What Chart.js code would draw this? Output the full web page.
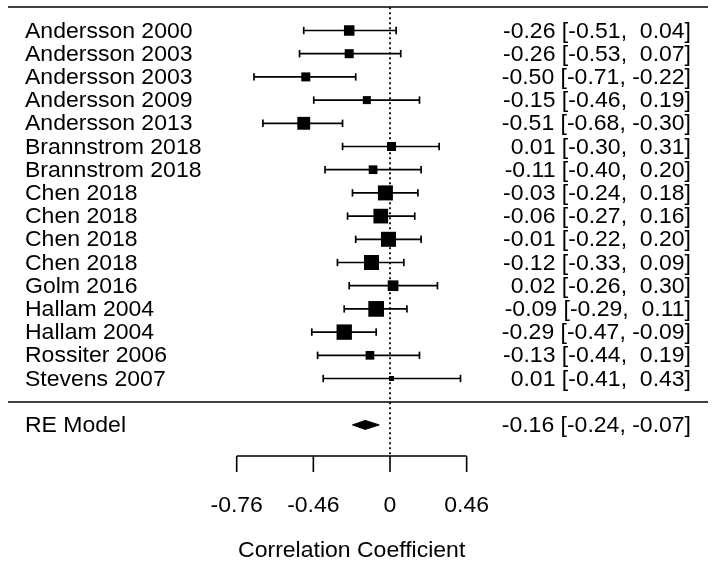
<!DOCTYPE html>
<html>
<head>
<meta charset="utf-8">
<script src="https://cdn.jsdelivr.net/npm/chart.js@4/dist/chart.umd.min.js"></script>
<style>
  html, body { margin: 0; padding: 0; background: #fff; }
  #Chart { display: block; }
</style>
</head>
<body>
<canvas id="Chart" width="714" height="561"></canvas>
<script>
'use strict';
// ********************* DATA ********************

const studies = ['Andersson 2000', 'Andersson 2003', 'Andersson 2003', 'Andersson 2009', 'Andersson 2013',
  'Brannstrom 2018', 'Brannstrom 2018', 'Chen 2018', 'Chen 2018', 'Chen 2018', 'Chen 2018',
  'Golm 2016', 'Hallam 2004', 'Hallam 2004', 'Rossiter 2006', 'Stevens 2007'];
const estimates = [-0.26, -0.26, -0.50, -0.15, -0.51, 0.01, -0.11, -0.03, -0.06, -0.01, -0.12, 0.02, -0.09, -0.29, -0.13, 0.01];
const ciLower = [-0.51, -0.53, -0.71, -0.46, -0.68, -0.30, -0.40, -0.24, -0.27, -0.22, -0.33, -0.26, -0.29, -0.47, -0.44, -0.41];
const ciUpper = [0.04, 0.07, -0.22, 0.19, -0.30, 0.31, 0.20, 0.18, 0.16, 0.20, 0.09, 0.30, 0.11, -0.09, 0.19, 0.43];
// relative study weights (square size)
const weights = [6.2, 5.3, 5.3, 4.7, 7.6, 5.3, 5.1, 8.9, 8.7, 8.9, 8.9, 6.3, 9.3, 9.1, 5.1, 2.9];

const modelLabel = 'RE Model';
const modelEstimate = -0.16;
const modelLower = -0.24;
const modelUpper = -0.07;

// axis ticks sit on the Fisher z scale, labels are back-transformed correlations
const tickPositions = [-1, -0.5, 0, 0.5];
const tickLabels = ['-0.76', '-0.46', '0', '0.46'];
const axisTitle = 'Correlation Coefficient';

// ********************* HELPERS ****************

let canvasElem = document.getElementById('Chart');
const z = r => Math.atanh(r);
const fmt = v => v.toFixed(2);
const pad = v => (v >= 0 ? ' ' : '') + fmt(v);

const FONT = '21.5px "Liberation Sans", Arial, sans-serif';
const STRETCH = 1.07;
const modelRow = studies.length + 2;
const axisRow = 19.34;

function drawText(ctx, text, x, y, align) {
  ctx.save();
  ctx.translate(x, y);
  ctx.scale(STRETCH, 1);
  ctx.textAlign = align;
  ctx.textBaseline = 'alphabetic';
  ctx.fillText(text, 0, 0);
  ctx.restore();
}

// ********************* PLUGIN FOR TEXT AND AXIS ****************

const forestText = {
  id: 'forestText',
  afterDatasetsDraw(chart) {
    const ctx = chart.ctx;
    const xs = chart.scales.x;
    const ys = chart.scales.y;
    ctx.save();
    ctx.fillStyle = '#000';
    ctx.strokeStyle = '#000';
    ctx.font = FONT;

    // top rule and separator
    ctx.lineWidth = 1.6;
    [0, studies.length + 1].forEach(row => {
      const py = Math.round(ys.getPixelForValue(row));
      ctx.beginPath();
      ctx.moveTo(8, py);
      ctx.lineTo(708, py);
      ctx.stroke();
    });

    // study labels and values
    studies.forEach((name, i) => {
      const py = ys.getPixelForValue(i + 1) + 7;
      drawText(ctx, name, 25, py, 'left');
      drawText(ctx, fmt(estimates[i]) + ' [' + fmt(ciLower[i]) + ', ' + pad(ciUpper[i]) + ']', 691, py, 'right');
    });
    const my = ys.getPixelForValue(modelRow) + 7;
    drawText(ctx, modelLabel, 25, my, 'left');
    drawText(ctx, fmt(modelEstimate) + ' [' + fmt(modelLower) + ', ' + pad(modelUpper) + ']', 691, my, 'right');

    // x axis
    const ay = Math.round(ys.getPixelForValue(axisRow));
    const x0 = xs.getPixelForValue(tickPositions[0]);
    const x1 = xs.getPixelForValue(tickPositions[tickPositions.length - 1]);
    ctx.lineWidth = 1.6;
    ctx.beginPath();
    ctx.moveTo(x0, ay);
    ctx.lineTo(x1, ay);
    tickPositions.forEach(t => {
      const px = xs.getPixelForValue(t);
      ctx.moveTo(px, ay);
      ctx.lineTo(px, ay + 16);
    });
    ctx.stroke();
    tickPositions.forEach((t, i) => {
      drawText(ctx, tickLabels[i], xs.getPixelForValue(t), ay + 56, 'center');
    });
    drawText(ctx, axisTitle, (x0 + x1) / 2, ay + 101, 'center');
    ctx.restore();
  }
};

// ********************* THIS FUNCTION RENDERS THE CHART ***********************

function renderChart() {
  const wMin = Math.min(...weights);
  const wMax = Math.max(...weights);
  const squareRadius = weights.map(w => (5 + (w - wMin) / (wMax - wMin) * 10.7) / Math.SQRT2);

  const datasets = [];

  // confidence intervals with end caps
  studies.forEach((name, i) => {
    datasets.push({
      type: 'line',
      data: [{ x: z(ciLower[i]), y: i + 1 }, { x: z(ciUpper[i]), y: i + 1 }],
      borderColor: '#000',
      borderWidth: 1.7,
      pointStyle: 'line',
      rotation: 90,
      pointRadius: 3.7,
      pointBorderWidth: 1.7,
      pointBorderColor: '#000',
      fill: false,
    });
  });

  // study squares
  datasets.push({
    type: 'scatter',
    data: estimates.map((e, i) => ({ x: z(e), y: i + 1 })),
    pointStyle: 'rect',
    pointRadius: squareRadius,
    backgroundColor: '#000',
    borderWidth: 0,
  });

  // summary diamond
  const h = 0.194;
  datasets.push({
    type: 'line',
    data: [
      { x: z(modelLower), y: modelRow },
      { x: z(modelEstimate), y: modelRow - h },
      { x: z(modelUpper), y: modelRow },
      { x: z(modelEstimate), y: modelRow + h },
      { x: z(modelLower), y: modelRow },
    ],
    borderColor: '#000',
    borderWidth: 1,
    backgroundColor: '#000',
    pointRadius: 0,
    fill: 'shape',
  });

  // reference line at zero
  datasets.push({
    type: 'line',
    data: [{ x: 0, y: 0 }, { x: 0, y: axisRow }],
    borderColor: '#000',
    borderWidth: 1.8,
    borderDash: [2, 3],
    pointRadius: 0,
    fill: false,
  });

  let chartObj = {
    type: 'scatter',
    data: { datasets: datasets },
    options: {
      responsive: false,
      animation: false,
      devicePixelRatio: 1,
      layout: { padding: 0, autoPadding: false },
      plugins: {
        legend: { display: false },
        tooltip: { enabled: false },
      },
      scales: {
        x: { type: 'linear', display: false, min: -390 / 153.3, max: 324 / 153.3 },
        y: { type: 'linear', display: false, reverse: true, min: -0.3147, max: 23.866 },
      }
    },
    plugins: [forestText]
  };
  new Chart(canvasElem, chartObj);
}

// ******************** EXECUTABLE CODE **************************
renderChart();
</script>
</body>
</html>
